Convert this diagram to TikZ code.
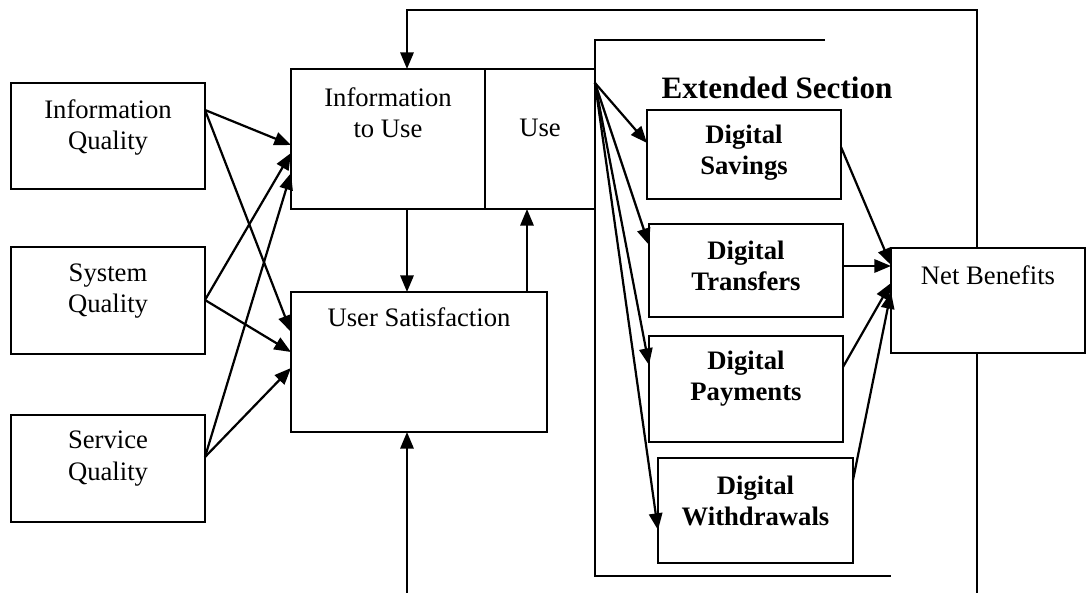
\documentclass[tikz,border=0pt]{standalone}
\usepackage{fontspec}
\setmainfont{Liberation Serif}
\usetikzlibrary{positioning,arrows.meta}
\newcommand{\pxu}{0.45pt}

\begin{document}
\begin{tikzpicture}[
    x=\pxu, y=-\pxu,
    font=\fontsize{12}{14}\selectfont,
    box/.style={draw, line width=0.8pt, inner sep=0pt, outer sep=0pt},
    txt/.style={align=center, inner sep=0pt, anchor=center},
    btxt/.style={txt, font=\fontsize{12}{14}\selectfont\bfseries},
    link/.style={-{Triangle[length=7.5pt,width=6pt]}, line width=1pt},
    wire/.style={line width=0.8pt},
  ]
  \useasboundingbox (0,0) rectangle (1089,593);
  % left side: quality boxes
  \node[box, minimum width=194*\pxu, minimum height=106*\pxu,
        label={[txt, yshift=3.8pt]center:Information\\Quality}] (IQ)  at (108,136)   {};
  \node[box, minimum width=194*\pxu, minimum height=107*\pxu,
        label={[txt, yshift=4.3pt]center:System\\Quality}]      (SQ)  at (108,300.5) {};
  \node[box, minimum width=194*\pxu, minimum height=107*\pxu,
        label={[txt, yshift=4.5pt]center:Service\\Quality}]     (SeQ) at (108,468.5) {};
  % middle: intention to use, use, satisfaction
  \node[box, minimum width=194*\pxu, minimum height=140*\pxu,
        label={[txt, yshift=12pt]center:Information\\to Use}]   (ItU) at (388,139)   {};
  \node[box, minimum width=110*\pxu, minimum height=140*\pxu,
        label={[txt, yshift=5pt]center:Use}]                    (Use) [right=0pt of ItU] {};
  \node[box, minimum width=256*\pxu, minimum height=140*\pxu,
        label={[txt, yshift=20pt]center:User Satisfaction}]     (US)  at (419,362)   {};
  % extended section
  \node[btxt, font=\fontsize{14}{16}\selectfont\bfseries]      (ext) at (777,88)    {Extended Section};
  \node[box, minimum width=194*\pxu, minimum height=89*\pxu,
        label={[btxt, yshift=1pt]center:Digital\\Savings}]      (Sav) at (744,154.5) {};
  \node[box, minimum width=194*\pxu, minimum height=93*\pxu,
        label={[btxt, yshift=2pt]center:Digital\\Transfers}]    (Trf) at (746,270.5) {};
  \node[box, minimum width=194*\pxu, minimum height=106*\pxu,
        label={[btxt, yshift=4.5pt]center:Digital\\Payments}]   (Pay) at (746,389)   {};
  \node[box, minimum width=195*\pxu, minimum height=105*\pxu,
        label={[btxt, yshift=4.3pt]center:Digital\\Withdrawals}] (Wdr) at (755.5,510.5) {};
  \draw[wire] (825,40) -- (595,40) -- (595,576) -- (891,576);
  % right side
  \node[box, minimum width=194*\pxu, minimum height=105*\pxu,
        label={[txt, yshift=11.5pt]center:Net Benefits}]        (NB)  at (988,300.5) {};
  \coordinate (fbtop)  at (977,10);
  \coordinate (usin)   at (407,593);
  \coordinate (nbout)  at (977,593);

  \draw[link] (IQ.east |- 0,110)  -- (ItU.west |- 0,145);
  \draw[link] (IQ.east |- 0,110)  -- (US.west |- 0,332);
  \draw[link] (SQ.east |- 0,300)  -- (ItU.west |- 0,153);
  \draw[link] (SQ.east |- 0,300)  -- (US.west |- 0,352);
  \draw[link] (SeQ.east |- 0,457) -- (ItU.west |- 0,173);
  \draw[link] (SeQ.east |- 0,457) -- (US.west |- 0,368);
  \draw[link] (ItU.south -| usin) -- (US.north -| usin);
  \draw[link] (US.north -| 527,0) -- (Use.south -| 527,0);
  \draw[link] (usin) -- (US.south -| usin);
  \draw[link] (NB.north -| fbtop) -- (fbtop) -| (ItU.north -| usin);
  \draw[wire] (NB.south -| nbout) -- (nbout);

  \draw[link] (Use.east |- 0,83) -- (Sav.west |- 0,143);
  \draw[link] (Use.east |- 0,83) -- (Trf.west |- 0,245);
  \draw[link] (Use.east |- 0,83) -- (Pay.west |- 0,365);
  \draw[link] (Use.east |- 0,83) -- (Wdr.west |- 0,530);
  \draw[link] (Sav.east |- 0,147) -- (NB.west |- 0,265);
  \draw[link] (Trf.east |- 0,266) -- (NB.west |- 0,266);
  \draw[link] (Pay.east |- 0,367) -- (NB.west |- 0,283);
  \draw[link] (Wdr.east |- 0,480) -- (NB.west |- 0,292);
\end{tikzpicture}
\end{document}
